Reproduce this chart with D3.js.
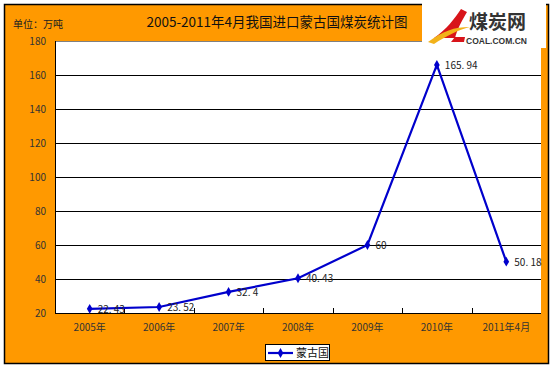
<!DOCTYPE html>
<html><head><meta charset="utf-8">
<script src="https://cdn.jsdelivr.net/npm/d3@7"></script>
<style>body{margin:0;background:#fff}svg{display:block}</style>
</head><body>
<script>
const categories = ["2005年","2006年","2007年","2008年","2009年","2010年","2011年4月"];
const values = [22.43, 23.52, 32.4, 40.43, 60, 165.94, 50.18];
const valueLabels = ["22. 43","23. 52","32. 4","40. 43","60","165. 94","50. 18"];
const yTicks = [20,40,60,80,100,120,140,160,180];
const seriesName = "蒙古国";
const title = "2005-2011年4月我国进口蒙古国煤炭统计图";
const unit = "单位：万吨";

const W=555,H=369;
const svg=d3.select("body").append("svg").attr("width",W).attr("height",H);
const font="SimSun, 'Noto Sans CJK SC', sans-serif";
svg.append("rect").attr("x",4.5).attr("y",4.5).attr("width",544).attr("height",359)
  .attr("fill","#FF9900").attr("stroke","#000").attr("stroke-width",1.5);

const L=55,R=541,T=41,B=313;
const x=d3.scaleBand().domain(categories).range([L,R]);
const y=d3.scaleLinear().domain([20,180]).range([B,T]);

svg.append("rect").attr("x",L).attr("y",T).attr("width",R-L).attr("height",B-T).attr("fill","#fff");
svg.append("g").selectAll("line").data(yTicks.filter(d=>d>20&&d<180)).join("line")
  .attr("x1",L).attr("x2",R).attr("y1",d=>Math.round(y(d))+0.5).attr("y2",d=>Math.round(y(d))+0.5)
  .attr("stroke","#000").attr("stroke-width",1);
svg.append("line").attr("x1",L).attr("x2",R).attr("y1",T+0.5).attr("y2",T+0.5).attr("stroke","#808080");
svg.append("line").attr("x1",L+0.5).attr("x2",L+0.5).attr("y1",T).attr("y2",B).attr("stroke","#000");
svg.append("line").attr("x1",L).attr("x2",R).attr("y1",B+0.5).attr("y2",B+0.5).attr("stroke","#000");
svg.append("g").selectAll("line").data(categories.slice(1)).join("line")
  .attr("x1",d=>Math.round(x(d))+0.5).attr("x2",d=>Math.round(x(d))+0.5)
  .attr("y1",B).attr("y2",B-5).attr("stroke","#000");

svg.append("g").selectAll("text").data(yTicks).join("text")
  .attr("x",46).attr("y",d=>y(d)+4).attr("text-anchor","end")
  .attr("font-family",font).attr("font-size",10).attr("fill","#333").text(d=>d);
svg.append("g").selectAll("text").data(categories).join("text")
  .attr("x",d=>x(d)+x.bandwidth()/2).attr("y",331).attr("text-anchor","middle")
  .attr("font-family",font).attr("font-size",10).attr("fill","#333").text(d=>d);

const pts=categories.map((c,i)=>[x(c)+x.bandwidth()/2,y(values[i])]);
svg.append("path").attr("d",d3.line()(pts)).attr("fill","none").attr("stroke","#0000CC").attr("stroke-width",2.2);
const diamond=d3.symbol().type(d3.symbolDiamond).size(28);
svg.append("g").selectAll("path").data(pts).join("path")
  .attr("transform",d=>`translate(${d[0]},${d[1]})`).attr("d",diamond).attr("fill","#0000CC");
svg.append("g").selectAll("text").data(pts).join("text")
  .attr("x",d=>d[0]+8).attr("y",(d,i)=>d[1]+4).attr("font-family",font).attr("font-size",10)
  .attr("fill","#222").text((d,i)=>valueLabels[i]);

svg.append("text").attr("x",277).attr("y",27).attr("text-anchor","middle")
  .attr("font-family",font).attr("font-size",13.5).attr("fill","#111").text(title);
svg.append("text").attr("x",13).attr("y",28).attr("font-family",font).attr("font-size",10)
  .attr("fill","#222").text(unit);

const lg=svg.append("g");
lg.append("rect").attr("x",422).attr("y",0).attr("width",124).attr("height",48).attr("fill","#fff");
lg.append("path").attr("d","M434,38 C446,30 455,18 461,9 L467,12 C461,22 457,30 455,38 Z").attr("fill","#D8141A");
lg.append("path").attr("d","M428,42 C443,31 454,27 470,27 C458,30 446,36 434,44 Z").attr("fill","#F2B21A");
lg.append("path").attr("d","M455,37 L465,37 L464,42 L451,42 Z").attr("fill","#D8141A");
lg.append("text").attr("x",469).attr("y",29).attr("font-family","'Noto Sans CJK SC'").attr("font-weight","bold")
  .attr("font-size",19).attr("fill","#333").text("煤炭网");
lg.append("text").attr("x",466).attr("y",44).attr("font-family","'Liberation Sans', Arial").attr("font-weight","bold")
  .attr("font-size",8.5).attr("fill","#333").text("COAL.COM.CN");

const lgd=svg.append("g");
lgd.append("rect").attr("x",265.5).attr("y",344.5).attr("width",64).attr("height",16).attr("fill","#fff").attr("stroke","#000");
lgd.append("line").attr("x1",268).attr("x2",293).attr("y1",353).attr("y2",353).attr("stroke","#0000CC").attr("stroke-width",2.2);
lgd.append("path").attr("transform","translate(280.5,353)").attr("d",diamond).attr("fill","#0000CC");
lgd.append("text").attr("x",296).attr("y",357).attr("font-family",font).attr("font-size",11).attr("fill","#111").text(seriesName);
</script>
</body></html>
